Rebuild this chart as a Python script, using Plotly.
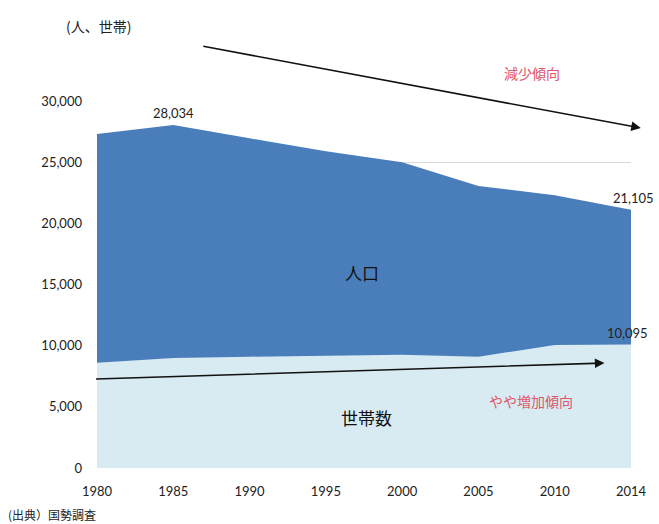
import plotly.graph_objects as go

years = ["1980", "1985", "1990", "1995", "2000", "2005", "2010", "2014"]
population = [27300, 28034, 26950, 25900, 25000, 23050, 22300, 21105]
households = [8600, 9000, 9100, 9200, 9250, 9100, 10050, 10095]
y_ticks = [0, 5000, 10000, 15000, 20000, 25000, 30000]

W, H = 659, 524
L, R, T, B = 97, 18, 101, 56
PW, PH = W - L - R, H - T - B

def px(x):
    return (x - L) / PW

def py(y):
    return (H - B - y) / PH

num_font = "Lato, 'Liberation Sans', sans-serif"
jp_font = "'Noto Sans CJK JP', sans-serif"

fig = go.Figure()
fig.add_trace(go.Scatter(
    x=years, y=population, mode="lines", fill="tozeroy",
    line=dict(color="#4a7ebb", width=0), fillcolor="#4a7ebb",
    name="人口", showlegend=False, hoverinfo="x+y"))
fig.add_trace(go.Scatter(
    x=years, y=households, mode="lines", fill="tozeroy",
    line=dict(color="#d8ebf3", width=0), fillcolor="#d8ebf3",
    name="世帯数", showlegend=False, hoverinfo="x+y"))

ann = []
# data labels (x given as category index)
i85 = years.index("1985")
iend = len(years) - 1
ann.append(dict(xref="x", yref="y", x=i85, y=population[i85], text=f"{population[i85]:,}", showarrow=False,
                xanchor="center", yanchor="bottom", yshift=2,
                font=dict(size=13, color="#222", family=num_font)))
ann.append(dict(xref="x", yref="y", x=iend, y=population[iend], text=f"{population[iend]:,}", showarrow=False,
                xanchor="center", yanchor="bottom", yshift=2, xshift=2,
                font=dict(size=13, color="#222", family=num_font)))
ann.append(dict(xref="x", yref="y", x=iend, y=households[iend], text=f"{households[iend]:,}", showarrow=False,
                xanchor="center", yanchor="bottom", yshift=2, xshift=-4,
                font=dict(size=13, color="#222", family=num_font)))
# arrows
ann.append(dict(xref="paper", yref="paper", x=px(651), y=py(128), ax=212 - 651, ay=46 - 128,
                showarrow=True, arrowhead=2, arrowsize=1.2, arrowwidth=1.6, arrowcolor="#111", text=""))
ann.append(dict(xref="paper", yref="paper", x=px(614), y=py(363), ax=104 - 614, ay=379 - 363,
                showarrow=True, arrowhead=2, arrowsize=1.2, arrowwidth=1.6, arrowcolor="#111", text=""))
# texts
def label(x, y, text, size, color, anchor="center"):
    ann.append(dict(xref="paper", yref="paper", x=px(x), y=py(y), text=text, showarrow=False,
                    xanchor=anchor, yanchor="middle",
                    font=dict(size=size, color=color, family=jp_font)))

label(540, 73, "減少傾向", 14, "#e0566a")
label(539, 401, "やや増加傾向", 14, "#e0566a")
label(367, 272, "人口", 17, "#111")
label(372, 417, "世帯数", 17, "#111")
label(99, 26, "(人、世帯)", 14, "#222")
label(4, 514, "(出典）国勢調査", 12, "#222", anchor="left")

fig.update_layout(
    width=W, height=H,
    margin=dict(l=L, r=R, t=T, b=B, pad=0),
    paper_bgcolor="white", plot_bgcolor="white",
    annotations=ann,
    xaxis=dict(type="category", range=[0, len(years) - 1], showgrid=False, zeroline=False,
               showline=False, ticks="", ticklabelstandoff=14,
               tickfont=dict(size=13, color="#222", family=num_font)),
    yaxis=dict(range=[0, 30000], tickvals=y_ticks, tickformat=",", showgrid=True,
               gridcolor="#d9d9d9", gridwidth=1, zeroline=False, showline=False, ticks="",
               ticklabelstandoff=14, tickfont=dict(size=13, color="#222", family=num_font)),
)
fig.write_html("out.html")
